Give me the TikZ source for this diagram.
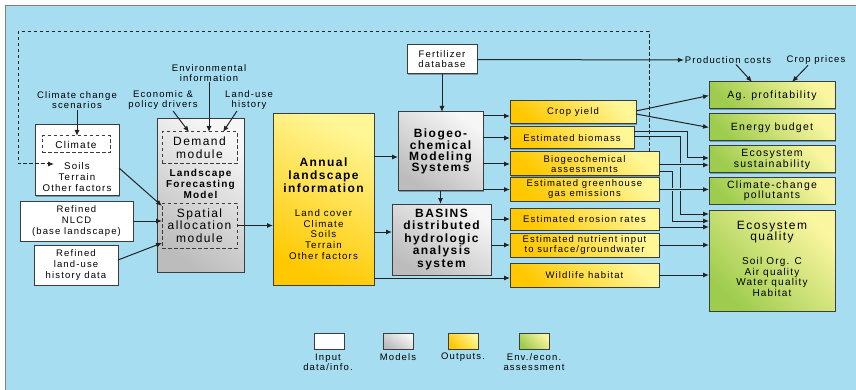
\documentclass[tikz,border=0pt]{standalone}
\usepackage{fontspec}
\setmainfont{Liberation Sans}[LetterSpace=12,Ligatures={TeX,NoCommon}]
\usetikzlibrary{arrows.meta,shadows}
\newcommand\myfs[2]{\fontsize{#1}{#2}\selectfont}
\definecolor{bgblue}{RGB}{166,221,241}
\definecolor{bordc}{RGB}{60,60,60}
\definecolor{linec}{RGB}{35,35,35}
\definecolor{yelL}{RGB}{255,246,150}
\definecolor{yelD}{RGB}{255,200,0}
\definecolor{grayL}{RGB}{246,246,246}
\definecolor{grayD}{RGB}{188,188,188}
\definecolor{grnL}{RGB}{250,246,160}
\definecolor{grnD}{RGB}{158,204,78}
\begin{document}
\begin{tikzpicture}[x=1pt,y=-1pt,
  box/.style={draw=bordc, line width=1pt, inner sep=1pt, outer sep=0pt, align=center,
    font=\myfs{9.5}{10}, drop shadow={shadow xshift=0.7pt,shadow yshift=-0.9pt,fill=black,opacity=0.3}},
  inbox/.style={box, fill=white},
  modbox/.style={box, top color=grayL, bottom color=grayD, shading angle=-35},
  outbox/.style={box, top color=yelL, bottom color=yelD, shading angle=-45},
  assbox/.style={box, top color=grnL, bottom color=grnD, shading angle=-45},
  dbox/.style={draw=bordc, dashed, dash pattern=on 3.5pt off 2.5pt, line width=1pt, inner sep=1pt, outer sep=0pt, align=center},
  txt/.style={inner sep=1pt, outer sep=0pt, align=center, font=\myfs{9.5}{10}},
  conn/.style={draw=linec, line width=1pt, -{Latex[length=6pt,width=5pt]}},
  bridge/.style={conn, preaction={draw=bgblue, line width=3.5pt, -, shorten <=2pt, shorten >=7pt}},
  fback/.style={conn, dashed, dash pattern=on 3.5pt off 2.5pt},
]
\useasboundingbox (0,0) rectangle (856,390);
\fill[white] (0,0) rectangle (856,390);
\fill[bgblue] (5,6) rectangle (856,390);
\draw[gray, line width=1pt] (5,390) -- (5,6) -- (856,6);

% ---------- input side ----------
\node[txt] (csc) at (77,100.5) {Climate change\\scenarios};
\node[txt] (econ) at (163,100.5) {Economic \&\\policy drivers};
\node[txt] (env) at (209,73) {Environmental\\information};
\node[txt] (luh) at (249,100.5) {Land-use\\history};

\node[inbox, minimum width=84pt, minimum height=71pt] (lbox) at (77,160.5) {};
\node[dbox, minimum width=68pt, minimum height=17pt, font=\myfs{10}{11}] (clim) at (76,144.5) {Climate};
\node[txt, font=\myfs{9.7}{11}] (soils) at (77,177) {Soils\\Terrain\\Other factors};
\coordinate (soilsin) at (54,164);

\node[inbox, minimum width=113pt, minimum height=40pt, font=\myfs{9.5}{11}] (nlcd) at (76.5,221) {Refined\\NLCD\\(base landscape)};
\node[inbox, minimum width=84pt, minimum height=40pt, font=\myfs{9.5}{11}] (lud) at (76,265) {Refined\\land-use\\history data};

% ---------- landscape forecasting model ----------
\node[modbox, minimum width=87pt, minimum height=153pt] (lfm) at (200.5,195.5) {};
\node[dbox, minimum width=75pt, minimum height=32pt, font=\myfs{12}{13}] (demand) at (199.5,148) {Demand\\module};
\node[txt, font=\myfs{10}{11}\bfseries] (lfmt) at (200.5,184) {Landscape\\Forecasting\\Model};
\node[dbox, minimum width=75pt, minimum height=45pt, font=\myfs{12}{12.5}] (spatial) at (199.5,225.5) {Spatial\\allocation\\module};

% ---------- annual landscape information ----------
\node[outbox, minimum width=101pt, minimum height=171pt, shading angle=-25] (annual) at (323.5,199.5) {};
\node[txt, font=\myfs{12}{13}\bfseries] (annt) at (323.5,175) {Annual\\landscape\\information};
\node[txt, font=\myfs{9.7}{10.7}] (annl) at (323.5,234.5) {Land cover\\Climate\\Soils\\Terrain\\Other factors};

% ---------- models ----------
\node[inbox, minimum width=70pt, minimum height=29pt] (fert) at (442,59.5) {Fertilizer\\database};
\node[modbox, minimum width=85pt, minimum height=79pt, font=\myfs{12}{11}\bfseries] (bgc) at (440.5,151.5) {Biogeo-\\chemical\\Modeling\\Systems};
\node[modbox, minimum width=99pt, minimum height=71pt, font=\myfs{12}{12.5}\bfseries] (basins) at (441.5,239.5) {BASINS\\distributed\\hydrologic\\analysis\\system};

% ---------- outputs ----------
\node[outbox, minimum width=126pt, minimum height=23pt] (cy) at (573,112.5) {Crop yield};
\node[outbox, minimum width=124pt, minimum height=22pt] (bm) at (572,138) {Estimated biomass};
\node[outbox, minimum width=149pt, minimum height=24pt] (bga) at (584.5,164) {Biogeochemical\\assessments};
\node[outbox, minimum width=149pt, minimum height=23pt] (ghg) at (584.5,189.5) {Estimated greenhouse\\gas emissions};
\node[outbox, minimum width=149pt, minimum height=22pt] (ero) at (584.5,219) {Estimated erosion rates};
\node[outbox, minimum width=149pt, minimum height=24pt] (nut) at (584.5,245) {Estimated nutrient input\\to surface/groundwater};
\node[outbox, minimum width=149pt, minimum height=24pt] (wild) at (584.5,275) {Wildlife habitat};

% ---------- assessments ----------
\node[txt] (pc) at (728,60) {Production costs};
\node[txt] (cp) at (816,60) {Crop prices};
\node[assbox, minimum width=126pt, minimum height=27pt, font=\myfs{10.5}{11}] (agp) at (772,95.5) {Ag. profitability};
\node[assbox, minimum width=126pt, minimum height=27pt, font=\myfs{10.5}{11}] (eb) at (772,127.5) {Energy budget};
\node[assbox, minimum width=126pt, minimum height=27pt, font=\myfs{10.5}{11}] (sus) at (772,159.5) {Ecosystem\\sustainability};
\node[assbox, minimum width=126pt, minimum height=26pt, font=\myfs{10.5}{10.5}] (ccp) at (772,191) {Climate-change\\pollutants};
\node[assbox, minimum width=126pt, minimum height=101pt] (eq) at (772,260.5) {};
\node[txt, font=\myfs{12}{11.5}] (eqt) at (772,232) {Ecosystem\\quality};
\node[txt, font=\myfs{10}{10.7}] (eql) at (772,277) {Soil Org. C\\Air quality\\Water quality\\Habitat};

% ---------- legend ----------
\node[inbox, minimum width=30pt, minimum height=16pt] (lg1) at (329,341) {};
\node[modbox, minimum width=30pt, minimum height=16pt] (lg2) at (398,341) {};
\node[outbox, minimum width=30pt, minimum height=16pt] (lg3) at (463,341) {};
\node[assbox, minimum width=30pt, minimum height=16pt] (lg4) at (534,341) {};
\node[txt] (lt1) at (328,362) {Input\\data/info.};
\node[txt] (lt2) at (398,357) {Models};
\node[txt] (lt3) at (463,357) {Outputs.};
\node[txt] (lt4) at (534,362) {Env./econ.\\assessment};

% ---------- connectors ----------
\draw[fback] (bga.north -| 649,0) -- (649,32) -- (18,32) -- (18,164) -- (soilsin);

\draw[conn] (csc.south) -- (csc.south |- clim.north);
\draw[conn] ([xshift=10pt]econ.south) -- ([xshift=-10.5pt]demand.north);
\draw[conn] (env.south) -- (env.south |- demand.north);
\draw[conn] ([xshift=-12pt]luh.south) -- ([xshift=23.5pt]demand.north);

\draw[conn] (lbox.east |- 0,168) -- (spatial.west |- 0,206);
\draw[conn] (nlcd.east) -- (spatial.west |- nlcd.east);
\draw[conn] (lud.east |- 0,260) -- (spatial.west |- 0,243);
\draw[conn] (spatial.east) -- (annual.west |- spatial.east);

\draw[conn] (annual.east |- 0,157) -- (bgc.west |- 0,157);
\draw[conn] (annual.east |- 0,232) -- (basins.west |- 0,232);
\draw[conn] (annual.east |- 0,278) -- (wild.west |- 0,278);

\draw[conn] (fert.south) -- (fert.south |- bgc.north);
\draw[conn] (fert.east) -- (pc.west);
\draw[conn] (bgc.south) -- (bgc.south |- basins.north);

\draw[conn] (bgc.east |- 0,116) -- (cy.west |- 0,116);
\draw[conn] (bgc.east |- bm.west) -- (bm.west);
\draw[conn] (bgc.east |- bga.west) -- (bga.west);
\draw[conn] (bgc.east |- ghg.west) -- (ghg.west);
\draw[conn] (basins.east |- ero.west) -- (ero.west);
\draw[conn] (basins.east |- nut.west) -- (nut.west);

\draw[conn] ([xshift=8pt]pc.south) -- ([xshift=-20pt]agp.north);
\draw[conn] ([xshift=-8pt]cp.south) -- ([xshift=20pt]agp.north);

\draw[conn] (cy.east |- 0,111) -- (agp.west);
\draw[conn] (cy.east |- 0,114) -- (eb.west);
\draw[conn] (bm.east |- 0,132) -- (687,132) |- (sus.west |- 0,158);
\draw[conn] (bm.east |- 0,137) -- (680,137) |- (eq.west |- 0,214);
\draw[conn] (bga.east |- 0,172) -- (672,172) |- (eq.west |- 0,221);
\draw[bridge] (bga.east |- 0,165) -- (sus.west |- 0,165);
\draw[bridge] (ghg.east) -- (ghg.east -| ccp.west);
\draw[conn] (ero.east |- 0,227) -- (eq.west |- 0,227);
\draw[conn] (nut.east) -- (eq.west |- nut.east);
\draw[conn] (wild.east) -- (eq.west |- wild.east);
\end{tikzpicture}
\end{document}
